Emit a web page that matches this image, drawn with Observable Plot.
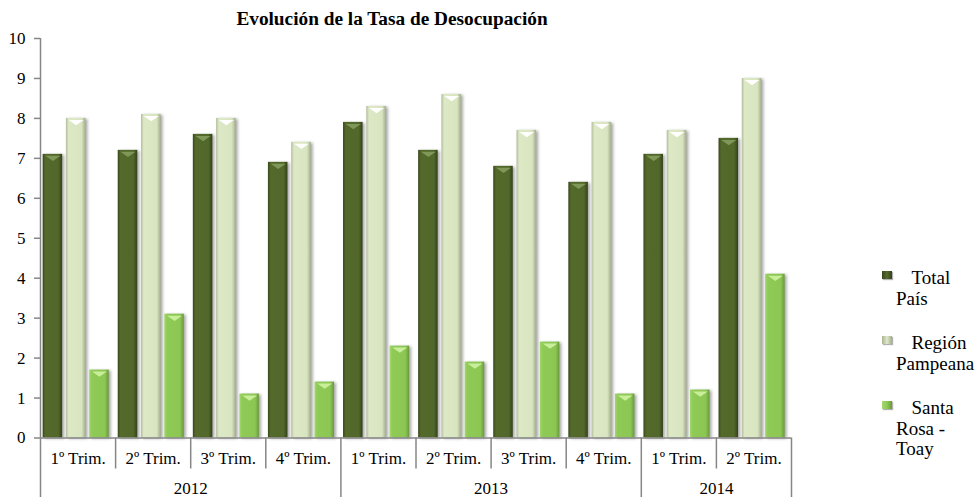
<!DOCTYPE html>
<html><head><meta charset="utf-8">
<script src="https://cdn.jsdelivr.net/npm/d3@7"></script>
<script src="https://cdn.jsdelivr.net/npm/@observablehq/plot@0.6"></script>
<style>
body{margin:0;background:#fff;font-family:"Liberation Serif","Times New Roman",serif;color:#000;}
#wrap{position:relative;width:979px;height:497px;overflow:hidden;}
#title{position:absolute;left:0;top:8px;width:784px;text-align:center;font-weight:bold;font-size:19.3px;line-height:22px;}
#chart{position:absolute;left:0;top:30px;}
#chart svg{overflow:visible;font-family:"Liberation Serif","Times New Roman",serif !important;font-size:17px !important;}
#chart svg text{font-family:"Liberation Serif","Times New Roman",serif !important;}
#legend{position:absolute;left:896px;top:268px;display:flex;flex-direction:column;gap:24px;font-size:19px;line-height:20.5px;}
.item{text-indent:-14px;white-space:nowrap}
.sw{display:inline-block;width:10px;height:8px;margin-right:19.5px;vertical-align:5px;box-shadow:1px 1px 1px rgba(0,0,0,.3)}
g[aria-label="rect"] rect{filter:drop-shadow(2px 1px 1.5px rgba(0,0,0,.35))}
</style>
</head><body>
<svg width="0" height="0" style="position:absolute">
<defs>
<linearGradient id="g0" x1="0" x2="1" y1="0" y2="0">
<stop offset="0" stop-color="#3a481c"/><stop offset="0.14" stop-color="#536a2b"/><stop offset="0.8" stop-color="#52672a"/><stop offset="1" stop-color="#33411a"/>
</linearGradient>
<linearGradient id="g1" x1="0" x2="1" y1="0" y2="0">
<stop offset="0" stop-color="#b3bc9c"/><stop offset="0.14" stop-color="#dde9c6"/><stop offset="0.8" stop-color="#d9e5c0"/><stop offset="1" stop-color="#a4ae8c"/>
</linearGradient>
<linearGradient id="g2" x1="0" x2="1" y1="0" y2="0">
<stop offset="0" stop-color="#a2d86c"/><stop offset="0.14" stop-color="#8fca57"/><stop offset="0.8" stop-color="#8cc754"/><stop offset="1" stop-color="#6b9a3d"/>
</linearGradient>
</defs>
</svg>
<div id="wrap">
<div id="title">Evolución de la Tasa de Desocupación</div>
<div id="chart"></div>
<div id="legend"></div>
</div>
<script>
// ---- data ----
const years = ["2012","2012","2012","2012","2013","2013","2013","2013","2014","2014"];
const quarters = ["1º Trim.","2º Trim.","3º Trim.","4º Trim.","1º Trim.","2º Trim.","3º Trim.","4º Trim.","1º Trim.","2º Trim."];
const seriesNames = ["Total País","Región Pampeana","Santa Rosa - Toay"];
const legendLines = [["Total","País"],["Región","Pampeana"],["Santa","Rosa -","Toay"]];
const totalPais = [7.1,7.2,7.6,6.9,7.9,7.2,6.8,6.4,7.1,7.5];
const regionPampeana = [8.0,8.1,8.0,7.4,8.3,8.6,7.7,7.9,7.7,9.0];
const santaRosaToay = [1.7,3.1,1.1,1.4,2.3,1.9,2.4,1.1,1.2,4.1];
const yTicks = [0,1,2,3,4,5,6,7,8,9,10];

// ---- styles ----
const axisGray = "#868686";
const barFills = ["url(#g0)","url(#g1)","url(#g2)"];
const chevronFills = ["#7f9758","#ffffff","#c9ee9a"];
const swatchCss = [
  "linear-gradient(90deg,#3a481c,#566d2d,#33411a)",
  "linear-gradient(90deg,#a9b292,#dfeacb,#a4ae8c)",
  "linear-gradient(90deg,#a2d86c,#8fca57,#6b9a3d)"
];
const barInset = 0.035, barStep = 0.31, barWidth = 0.26;

// ---- build ----
const seriesValues = [totalPais, regionPampeana, santaRosaToay];
const bars = [];
seriesValues.forEach((vals, si) => vals.forEach((v, qi) => {
  const x1 = qi + barInset + si * barStep;
  bars.push({qi, si, series: seriesNames[si], value: v, x1, x2: x1 + barWidth});
}));

const yearList = [...new Set(years)];
const yearStart = yearList.map(y => years.indexOf(y));
const yearEnd = yearList.map(y => years.lastIndexOf(y) + 1);
const yearCenters = yearList.map((y, i) => (yearStart[i] + yearEnd[i]) / 2);
const longTicks = [...new Set([...yearStart, ...yearEnd])];
const shortTicks = d3.range(0, quarters.length + 1).filter(t => !longTicks.includes(t));
const quarterCenters = quarters.map((q, i) => i + 0.5);

const chevron = {
  draw(context, size) {
    const r = Math.sqrt(size / Math.PI);
    context.moveTo(-r, 1.5);
    context.lineTo(r, 1.5);
    context.lineTo(0, 1.5 + 0.7 * r);
    context.closePath();
  }
};

const plot = Plot.plot({
  width: 979, height: 467,
  marginTop: 8, marginBottom: 59.5, marginLeft: 40, marginRight: 188,
  style: {"font-family": '"Liberation Serif", "Times New Roman", serif', "font-size": "17px", color: "#000", background: "transparent", overflow: "visible"},
  x: {domain: [0, quarters.length]},
  y: {domain: [0, 10]},
  marks: [
    seriesNames.map((s, si) => Plot.rectY(bars.filter(d => d.si === si), {x1: "x1", x2: "x2", y1: 0, y2: "value", fill: barFills[si]})),
    seriesNames.map((s, si) => Plot.dot(bars.filter(d => d.si === si), {x: d => (d.x1 + d.x2) / 2, y: "value", r: 7.5, symbol: chevron, fill: chevronFills[si], stroke: "none"})),
    Plot.ruleY([0], {stroke: axisGray, strokeWidth: 1.5}),
    Plot.ruleX([0], {stroke: axisGray, strokeWidth: 1.5}),
    Plot.axisY(yTicks, {tickSize: 6, tickPadding: 9, stroke: axisGray, strokeWidth: 1.5, fill: "#000", label: null}),
    Plot.axisX(shortTicks, {tickSize: 31, stroke: axisGray, strokeWidth: 1.5, fill: "none", label: null}),
    Plot.axisX(longTicks, {tickSize: 60, stroke: axisGray, strokeWidth: 1.5, fill: "none", label: null}),
    Plot.axisX(quarterCenters, {tickSize: 0, tickPadding: 13.5, tickFormat: d => quarters[Math.floor(d)], fill: "#000", label: null}),
    Plot.axisX(yearCenters, {tickSize: 0, tickPadding: 43.5, tickFormat: d => yearList[yearCenters.indexOf(d)], fill: "#000", label: null})
  ]
});
document.getElementById("chart").appendChild(plot);

const legend = document.getElementById("legend");
seriesNames.forEach((name, si) => {
  const item = document.createElement("div");
  item.className = "item";
  item.setAttribute("aria-label", name);
  const sw = document.createElement("span");
  sw.className = "sw";
  sw.style.background = swatchCss[si];
  item.appendChild(sw);
  legendLines[si].forEach((line, li) => {
    if (li > 0) item.appendChild(document.createElement("br"));
    item.appendChild(document.createTextNode(line));
  });
  legend.appendChild(item);
});
</script>
</body></html>
